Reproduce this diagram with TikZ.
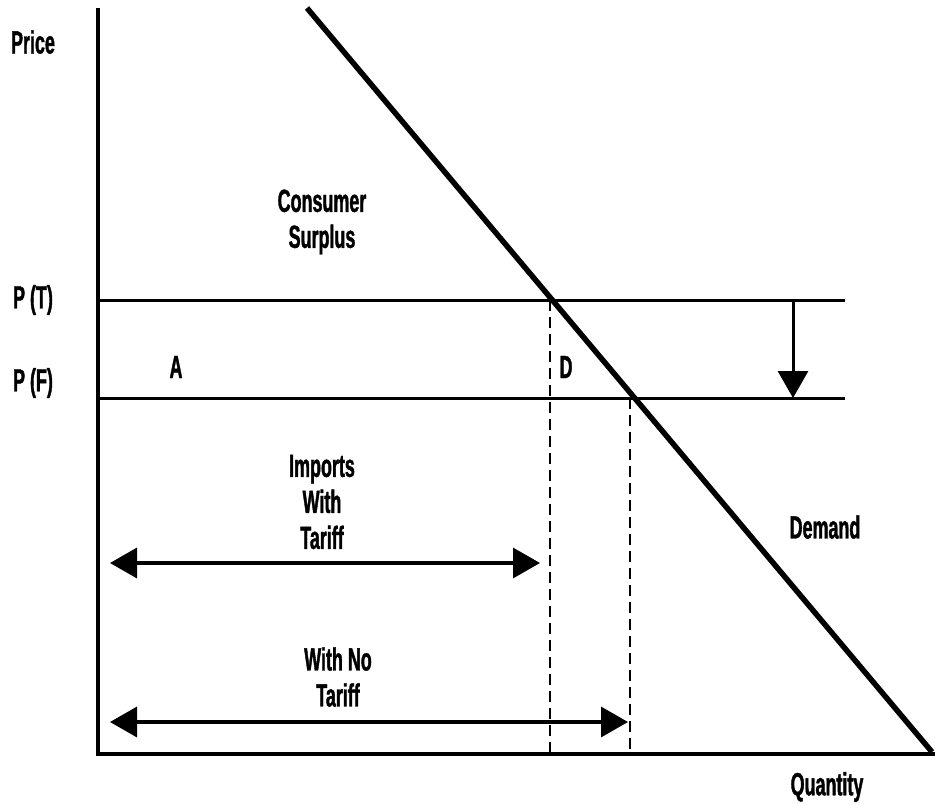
\documentclass[tikz,border=0pt]{standalone}
\usepackage{fontspec}
\setmainfont[FakeStretch=0.56,FakeBold=1.2]{Liberation Sans}
\usetikzlibrary{arrows.meta}
\begin{document}
\begin{tikzpicture}[x=1pt,y=-1pt,
  lbl/.style={font=\fontsize{32}{36}\selectfont\bfseries, inner sep=0pt, align=center},
  axis/.style={line width=3.5pt},
  pline/.style={line width=3pt},
  dem/.style={line width=5.5pt},
  dline/.style={line width=2.5pt, dash pattern=on 11pt off 6pt},
  arr/.style={line width=3pt, -{Triangle[length=27pt,width=30pt]}},
  darr/.style={line width=3.5pt, {Triangle[length=27pt,width=30pt]}-{Triangle[length=27pt,width=30pt]}}]
\useasboundingbox (0,0) rectangle (935,804);
% axes
\coordinate (o) at (98,754);
\coordinate (ytop) at (98,8);
\coordinate (xend) at (935,754);
\draw[axis] (ytop) -- (o) -- (xend);
% price lines
\coordinate (pt0) at (98,300);
\coordinate (pt1) at (845,300);
\coordinate (pf0) at (98,398);
\coordinate (pf1) at (845,398);
\draw[pline] (pt0) -- (pt1);
\draw[pline] (pf0) -- (pf1);
% demand
\coordinate (d0) at (307,8);
\coordinate (d1) at (932,752);
\draw[dem] (d0) -- (d1);
% dashed verticals
\coordinate (q1t) at (550,300);
\coordinate (q1b) at (550,754);
\coordinate (q2t) at (630,398);
\coordinate (q2b) at (630,754);
\draw[dline] (q1t) -- (q1b);
\draw[dline] (q2t) -- (q2b);
% down arrow
\coordinate (da0) at (793,300);
\coordinate (da1) at (793,398);
\draw[arr] (da0) -- (da1);
% import arrows
\coordinate (i1a) at (110,563);
\coordinate (i1b) at (540,563);
\coordinate (i2a) at (110,722);
\coordinate (i2b) at (628,722);
\draw[darr] (i1a) -- (i1b);
\draw[darr] (i2a) -- (i2b);
% labels
\node[lbl] (price) at (33,42) {Price};
\node[lbl] (pT) at (33,300) {P (T)};
\node[lbl] (pF) at (33,383) {P (F)};
\node[lbl] (A) at (176,367) {A};
\node[lbl] (D) at (566,367) {D};
\node[lbl] (cs) at (322,222) {Consumer\\Surplus};
\node[lbl] (imp) at (322,502) {Imports\\With\\Tariff};
\node[lbl] (nt) at (338,677) {With No\\Tariff};
\node[lbl] (dmd) at (825,527) {Demand};
\node[lbl] (qty) at (827,787) {Quantity};
\end{tikzpicture}
\end{document}
